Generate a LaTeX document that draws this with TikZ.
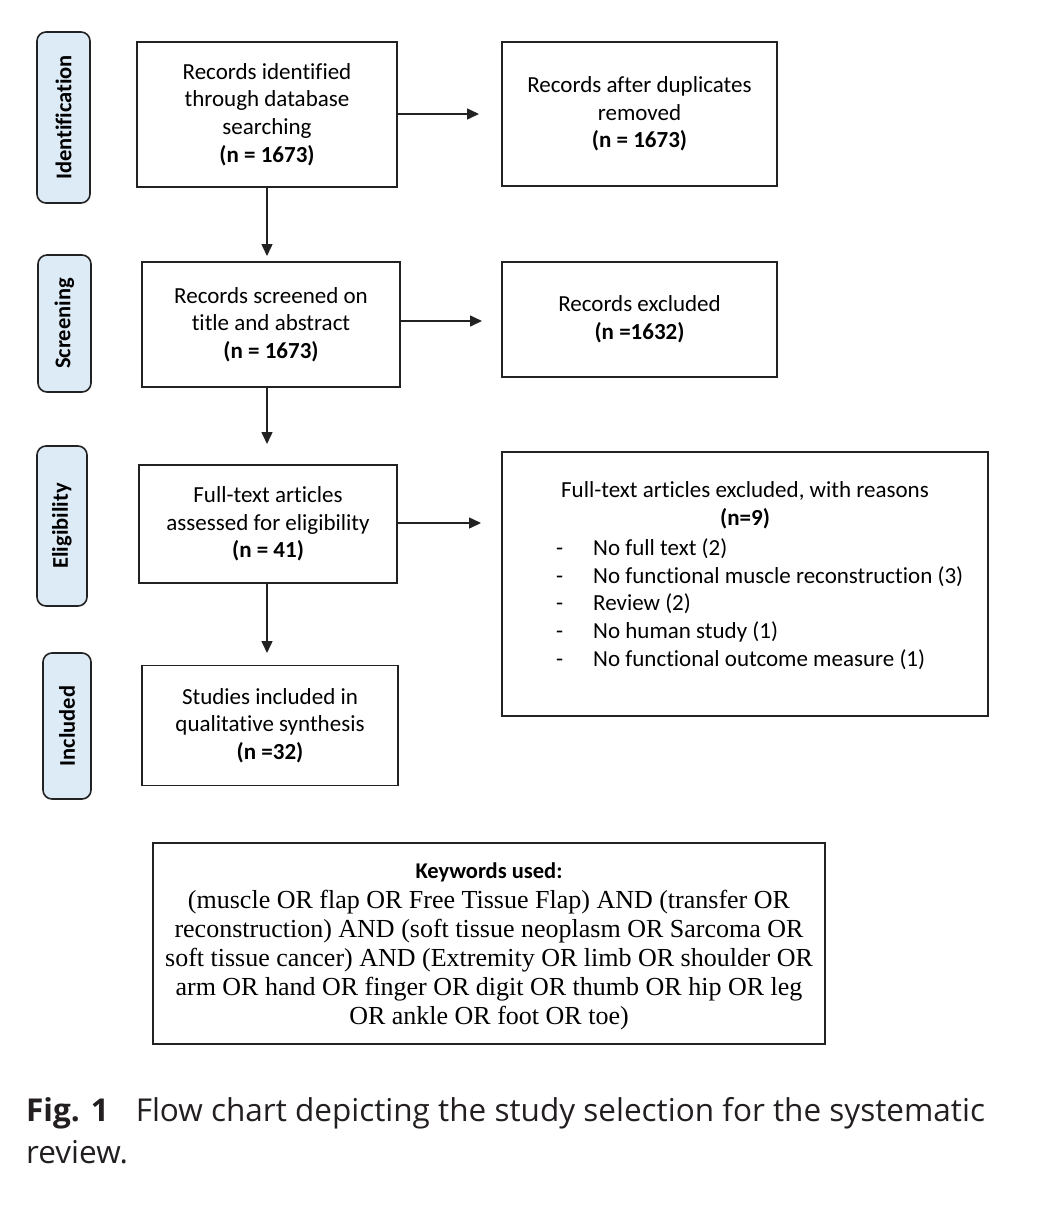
\documentclass[tikz,border=0pt]{standalone}
\usepackage{fontspec}
\setmainfont[Ligatures=NoCommon]{Carlito}
\newfontfamily\kwfont{Liberation Serif}
\newfontfamily\capfont{Open Sans}
\usetikzlibrary{arrows.meta}
\definecolor{lblue}{HTML}{DDEBF7}
\definecolor{lineg}{HTML}{222222}
\definecolor{capc}{HTML}{231F20}
\begin{document}
\begin{tikzpicture}[x=1pt,y=-1pt,
  box/.style={draw=lineg, line width=1.6pt, inner sep=0pt, align=center, font=\fontsize{23}{27.6}\selectfont},
  stage/.style={draw=lineg, fill=lblue, line width=1.6pt, rounded corners=9pt, rotate=90, inner sep=0pt, font=\bfseries\fontsize{22.5}{24}\selectfont},
  arr/.style={draw=lineg, line width=1.5pt, -{Triangle[length=12pt,width=11pt]}},
  txt/.style={inner sep=0pt, font=\fontsize{23}{27.6}\selectfont}
]
\useasboundingbox (0,0) rectangle (1050,1208);
\fill[white] (0,0) rectangle (1050,1208);

% stage labels
\node[stage, minimum width=171, minimum height=53] (s1) at (63.5,117.5) {Identification};
\node[stage, minimum width=137, minimum height=53] (s2) at (64.5,323.5) {Screening};
\node[stage, minimum width=160, minimum height=50] (s3) at (62,526) {Eligibility};
\node[stage, minimum width=146, minimum height=48] (s4) at (67,726) {Included};

% boxes
\node[box, minimum width=260, minimum height=145] (b1) at (267,114.5) {Records identified\\through database\\searching\\\textbf{(n = 1673)}};
\node[box, minimum width=275, minimum height=144] (b2) at (639.5,114) {Records after duplicates\\removed\\\textbf{(n = 1673)}};
\node[box, minimum width=258, minimum height=125] (b3) at (271,324.5) {Records screened on\\title and abstract\\\textbf{(n = 1673)}};
\node[box, minimum width=275, minimum height=115] (b4) at (639.5,319.5) {Records excluded\\\textbf{(n =1632)}};
\node[box, minimum width=258, minimum height=118] (b5) at (268,524) {Full-text articles\\assessed for eligibility\\\textbf{(n = 41)}};
\node[box, minimum width=486, minimum height=264] (b6) at (745,584) {};
\node[box, minimum width=256, minimum height=120] (b7) at (270,725.5) {Studies included in\\qualitative synthesis\\\textbf{(n =32)}};

% excluded text
\node[txt, align=center] (t6a) at (745,505.5) {Full-text articles excluded, with reasons\\\textbf{(n=9)}};
\node[txt, align=left, anchor=west] (t6b) at (556,604) {\makebox[37pt][l]{-}No full text (2)\\
\makebox[37pt][l]{-}No functional muscle reconstruction (3)\\
\makebox[37pt][l]{-}Review (2)\\
\makebox[37pt][l]{-}No human study (1)\\
\makebox[37pt][l]{-}No functional outcome measure (1)};

% arrows
\coordinate (e1) at (479,114);
\coordinate (e2) at (482,321);
\coordinate (e3) at (481,523);
\coordinate (d1) at (267,256);
\coordinate (d2) at (267,444);
\coordinate (d3) at (267,653);
\draw[arr] (b1.east |- e1) -- (e1);
\draw[arr] (b3.east |- e2) -- (e2);
\draw[arr] (b5.east |- e3) -- (e3);
\draw[arr] (d1 |- b1.south) -- (d1);
\draw[arr] (d2 |- b3.south) -- (d2);
\draw[arr] (d3 |- b5.south) -- (d3);

% keywords
\node[draw=lineg, line width=1.6pt, minimum width=672, minimum height=201, inner sep=0pt] (kw) at (489,943.5) {};
\node[inner sep=0pt, anchor=base, font=\bfseries\fontsize{22.5}{24}\selectfont] (kwh) at (489,878) {Keywords used:};
\node[inner sep=0pt, align=center, anchor=north, font=\kwfont\fontsize{26}{28.9}\selectfont] (kwt) at (489,890) {(muscle OR flap OR Free Tissue Flap) AND (transfer OR\\
reconstruction) AND (soft tissue neoplasm OR Sarcoma OR\\
soft tissue cancer) AND (Extremity OR limb OR shoulder OR\\
arm OR hand OR finger OR digit OR thumb OR hip OR leg\\
OR ankle OR foot OR toe)};

% caption
\node[inner sep=0pt, anchor=base west, font=\capfont\fontsize{31.5}{42}\selectfont, text=capc] (cap1) at (26,1121) {\textbf{Fig. 1}\hspace{27pt}Flow chart depicting the study selection for the systematic};
\node[inner sep=0pt, anchor=base west, font=\capfont\fontsize{31.5}{42}\selectfont, text=capc] (cap2) at (26,1163) {review.};
\end{tikzpicture}
\end{document}
